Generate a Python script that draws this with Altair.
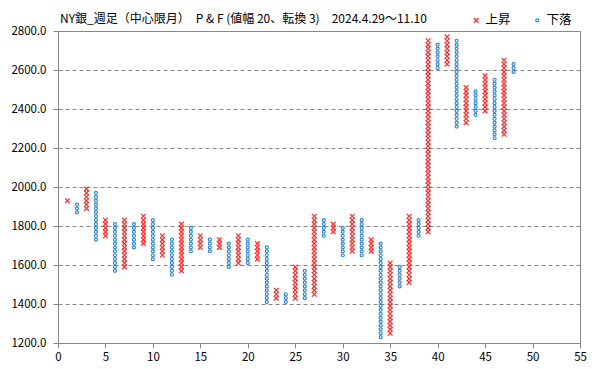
import altair as alt
import pandas as pd

# Point & Figure columns: column number, direction, low box, high box (box size 20)
col_no = list(range(1, 49))
col_dir = ["X", "O"] * 24
col_low = [1930, 1870, 1890, 1730, 1750, 1570, 1590, 1690, 1710, 1630,
           1650, 1550, 1570, 1670, 1690, 1670, 1690, 1590, 1610, 1610,
           1630, 1410, 1430, 1410, 1430, 1430, 1450, 1750, 1770, 1650,
           1670, 1650, 1670, 1230, 1250, 1490, 1510, 1750, 1770, 2610,
           2630, 2310, 2330, 2370, 2390, 2250, 2270, 2590]
col_high = [1930, 1910, 1990, 1970, 1830, 1810, 1830, 1810, 1850, 1830,
            1750, 1730, 1810, 1790, 1750, 1730, 1730, 1710, 1750, 1730,
            1710, 1690, 1470, 1450, 1590, 1570, 1850, 1830, 1810, 1790,
            1850, 1830, 1730, 1710, 1610, 1590, 1850, 1830, 2750, 2730,
            2770, 2750, 2510, 2490, 2570, 2550, 2650, 2630]
box_size = 20
dir_label = {"X": "上昇", "O": "下落"}

x_ticks = list(range(0, 56, 5))
y_ticks = list(range(1200, 2801, 200))
title_text = "NY銀_週足（中心限月）　P & F (値幅 20、転換 3)　2024.4.29～11.10"

rows = []
for n, d, lo, hi in zip(col_no, col_dir, col_low, col_high):
    for v in range(lo, hi + 1, box_size):
        rows.append({"col": n, "price": v, "type": dir_label[d]})
df = pd.DataFrame(rows)

FONT = "Noto Sans CJK JP"
XPATH = "M-1,-1L1,1M-1,1L1,-1"

points = alt.Chart(df).mark_point(filled=False, strokeWidth=1.2, opacity=1).encode(
    x=alt.X("col:Q", scale=alt.Scale(domain=[0, 55], nice=False, zero=False),
            axis=alt.Axis(values=x_ticks, title=None, grid=False, format="d",
                          labelFontSize=11.5, labelFont=FONT, labelColor="#000",
                          tickSize=5, tickColor="#888", domainColor="#888",
                          labelPadding=3, labelFlush=False)),
    y=alt.Y("price:Q", scale=alt.Scale(domain=[1200, 2800], nice=False, zero=False),
            axis=alt.Axis(values=y_ticks, title=None, format=".1f",
                          labelFontSize=11.5, labelFont=FONT, labelColor="#000",
                          tickSize=5, tickColor="#888", domainColor="#888",
                          labelPadding=7, grid=True, gridColor="#888",
                          gridDash=[4, 3], gridWidth=1)),
    color=alt.Color("type:N",
                    scale=alt.Scale(domain=["上昇", "下落"], range=["#ff2a2a", "#2f86d1"]),
                    legend=alt.Legend(title=None, orient="none", direction="horizontal",
                                      legendX=412, legendY=-17, labelFontSize=12.5,
                                      labelFont=FONT, labelColor="#000",
                                      symbolSize=20, symbolStrokeWidth=1.2,
                                      labelOffset=3, columnPadding=20)),
    shape=alt.Shape("type:N",
                    scale=alt.Scale(domain=["上昇", "下落"], range=[XPATH, "circle"])),
    size=alt.Size("type:N",
                  scale=alt.Scale(domain=["上昇", "下落"], range=[22, 9]),
                  legend=None),
)

title = alt.Chart(pd.DataFrame({"t": [title_text]})).mark_text(
    align="left", baseline="middle", fontSize=12, font=FONT, color="#000"
).encode(x=alt.value(2), y=alt.value(-12), text="t:N")

chart = alt.layer(points, title).properties(
    width=522, height=312,
    autosize=alt.AutoSizeParams(type="none"),
    padding={"left": 50, "top": 23, "right": 10, "bottom": 26},
).configure_view(stroke="#888", strokeWidth=1)

chart.save("out.html", embed_options={"renderer": "svg", "actions": False})
